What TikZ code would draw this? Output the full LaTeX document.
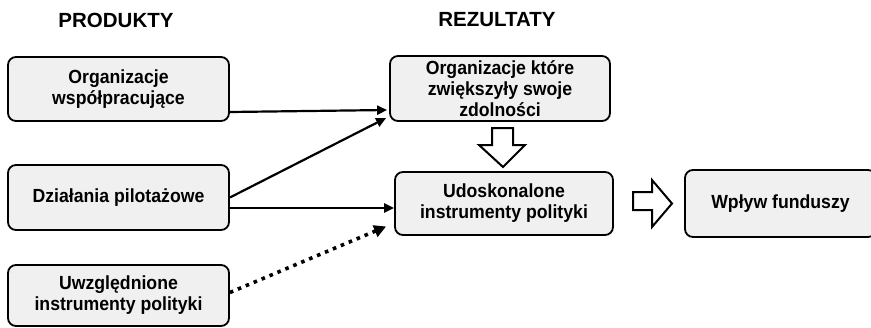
\documentclass[tikz,border=0pt]{standalone}
\usepackage{fontspec}
\setmainfont{Liberation Sans}
\newfontfamily\boxfont[FakeStretch=0.93]{Liberation Sans}
\usetikzlibrary{arrows.meta}
\begin{document}
\begin{tikzpicture}[x=1pt,y=-1pt,
  box/.style={draw=black, line width=1.8pt, rounded corners=8pt, fill=black!6,
    align=center, inner sep=0pt, font=\boxfont\fontsize{19}{21}\selectfont\bfseries},
  hdr/.style={font=\fontsize{20.5}{22}\selectfont\bfseries, inner sep=0pt},
  conn/.style={line width=2.2pt, -{Triangle[length=10pt,width=9pt]}},
  dotconn/.style={line width=3.6pt, dash pattern=on 3.6pt off 5pt, -{Triangle[length=12pt,width=12pt]}},
  blockarrow/.style={draw=black, line width=2pt, fill=white, line join=miter}
]
\useasboundingbox (0,0) rectangle (871,327);

\node[hdr] (h1) at (116,20) {PRODUKTY};
\node[hdr] (h2) at (497,20) {REZULTATY};

\node[box, minimum width=221pt, minimum height=64pt] (A) at (118.5,89) {Organizacje\\współpracujące};
\node[box, minimum width=221pt, minimum height=65pt] (B) at (118.5,197.5) {Działania pilotażowe};
\node[box, minimum width=221pt, minimum height=61pt] (C) at (118.5,295.5) {Uwzględnione\\instrumenty polityki};
\node[box, minimum width=220pt, minimum height=65pt] (D) at (500,88.5) {Organizacje które\\zwiększyły swoje\\zdolności};
\node[box, minimum width=218pt, minimum height=63pt] (E) at (504,203.5) {Udoskonalone\\instrumenty polityki};
\node[box, minimum width=191pt, minimum height=67pt] (F) at (780.5,203.5) {Wpływ funduszy};

\draw[conn] ([yshift=-23pt]A.east) -- ([xshift=-2pt,yshift=-21.5pt]D.west);
\draw[conn] (B.east) -- ([xshift=-3pt,yshift=-29.5pt]D.west);
\draw[conn] ([yshift=-10.5pt]B.east) -- ([yshift=-4.5pt]E.west);
\draw[dotconn] ([yshift=3pt]C.east) -- ([xshift=-8pt,yshift=-23pt]E.west);

% block arrows
\draw[blockarrow] (492,128) -- (513,128) -- (513,145) -- (525,145) -- (503,167) -- (479,145) -- (492,145) -- cycle;
\draw[blockarrow] (633,192) -- (652,192) -- (652,180) -- (672,203.5) -- (652,227) -- (652,210) -- (633,210) -- cycle;
\end{tikzpicture}
\end{document}
